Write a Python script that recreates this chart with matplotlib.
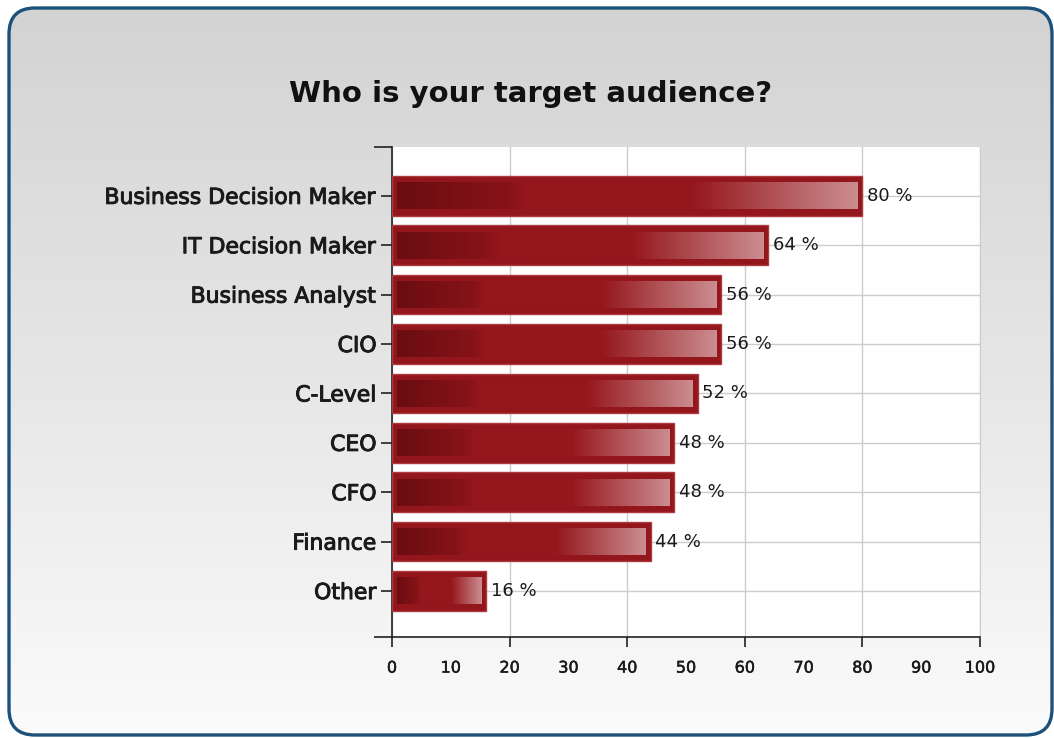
import numpy as np
import matplotlib
matplotlib.use("Agg")
import matplotlib.pyplot as plt
import matplotlib.patheffects as pe
from matplotlib.colors import LinearSegmentedColormap
from matplotlib.patches import FancyBboxPatch

categories = ["Business Decision Maker", "IT Decision Maker", "Business Analyst",
              "CIO", "C-Level", "CEO", "CFO", "Finance", "Other"]
values = [80, 64, 56, 56, 52, 48, 48, 44, 16]
major_ticks = [0, 20, 40, 60, 80, 100]
minor_ticks = [10, 30, 50, 70, 90]

bar_color = "#93161c"
bar_cmap = LinearSegmentedColormap.from_list(
    "bar", [(0.0, "#6a0d11"), (0.24, "#861318"), (0.28, "#95171c"),
            (0.64, "#95171c"), (1.0, "#cb8d90")])

fig = plt.figure(figsize=(10.54, 7.38), dpi=100)

# background panel with rounded border, drawn in pixel coords
bg = fig.add_axes([0, 0, 1, 1], zorder=-5)
bg.set_xlim(0, 1054)
bg.set_ylim(0, 738)
bg.axis("off")
grad = np.linspace(0, 1, 256).reshape(-1, 1)
bg_cmap = LinearSegmentedColormap.from_list("bg", ["#fbfbfb", "#e6e6e6", "#d3d3d3"])
img = bg.imshow(grad, cmap=bg_cmap, extent=[0, 1054, 2, 730], aspect="auto",
                origin="lower")
frame = FancyBboxPatch((9, 3), 1043, 727, boxstyle="round,pad=0,rounding_size=26",
                       facecolor="none", edgecolor="#1d5179", linewidth=2.4,
                       transform=None)
fig.patches.append(frame)
img.set_clip_path(frame)

ax = fig.add_axes([0.3719, 0.1369, 0.5579, 0.664])
ax.set_facecolor("white")

n = len(categories)
ypos = np.arange(n)[::-1]
height = 0.8

ax.barh(ypos, values, height=height, color=bar_color, edgecolor="#ad3a3f",
        linewidth=1, zorder=3)

grad_h = np.linspace(0, 1, 256).reshape(1, -1)
for y, v in zip(ypos, values):
    x0, x1 = 0.85, v - 0.85
    ax.imshow(grad_h, cmap=bar_cmap, aspect="auto", zorder=4,
              extent=[x0, x1, y - height / 2 + 0.13, y + height / 2 - 0.13])
    ax.text(v + 0.8, y, f"{v} %", va="center", ha="left", fontsize=13,
            color="#1a1a1a", zorder=5)

ax.set_xlim(0, 100)
ax.set_ylim(-0.93, n - 0.01)

heavy = [pe.withStroke(linewidth=0.7, foreground="#1a1a1a")]
medium = [pe.withStroke(linewidth=0.35, foreground="#1a1a1a")]

ax.set_yticks(ypos)
ax.set_yticklabels(categories, fontsize=15.8, color="#1a1a1a")
for lbl in ax.get_yticklabels():
    lbl.set_path_effects(heavy)
ax.set_yticks([-0.93, n - 0.01], minor=True)
ax.tick_params(axis="y", which="major", length=8, width=1.2, color="#222222", pad=3)
ax.tick_params(axis="y", which="minor", length=13, width=1.2, color="#222222")

ax.set_xticks(major_ticks)
ax.set_xticklabels([str(t) for t in major_ticks], fontsize=11.5, color="#1a1a1a")
ax.set_xticks(minor_ticks, minor=True)
ax.set_xticklabels([str(t) for t in minor_ticks], minor=True, fontsize=11.5,
                   color="#1a1a1a")
for lbl in ax.get_xticklabels() + ax.get_xticklabels(minor=True):
    lbl.set_path_effects(medium)
ax.tick_params(axis="x", which="major", length=7, width=1.2, color="#222222", pad=10)
ax.tick_params(axis="x", which="minor", length=0, pad=17)

ax.grid(True, axis="x", which="major", color="#cccccc", linewidth=1, zorder=0)
ax.grid(True, axis="y", which="major", color="#cccccc", linewidth=1, zorder=0)
ax.set_axisbelow(True)

ax.spines["top"].set_visible(False)
ax.spines["right"].set_color("#cccccc")
ax.spines["left"].set_color("#222222")
ax.spines["left"].set_linewidth(1.2)
ax.spines["bottom"].set_color("#222222")
ax.spines["bottom"].set_linewidth(1.2)

fig.text(0.503, 0.873, "Who is your target audience?", ha="center", va="center",
         fontsize=21, fontweight="bold", color="#111111")

fig.savefig("out.png", dpi=100)
